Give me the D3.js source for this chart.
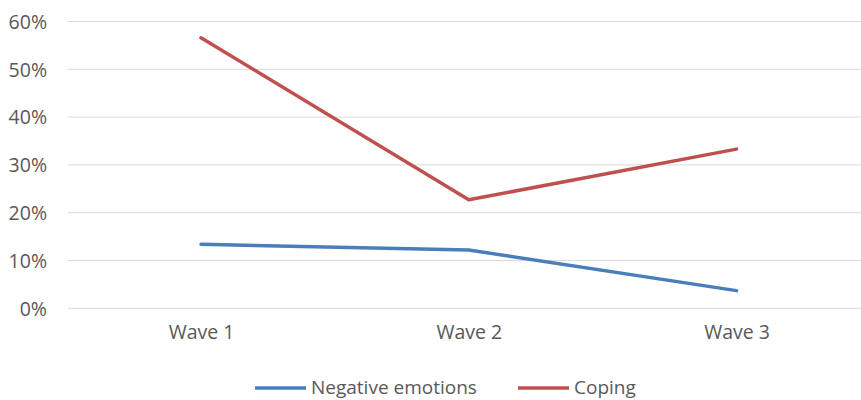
<!DOCTYPE html>
<html><head><meta charset="utf-8">
<script src="https://cdn.jsdelivr.net/npm/d3@7"></script>
<style>
html,body{margin:0;padding:0;background:#fff;}
svg{display:block;font-family:"Open Sans",sans-serif;}
</style></head>
<body><svg id="c" width="861" height="400"></svg>
<script>
const categories = ["Wave 1","Wave 2","Wave 3"];
const negativeEmotions = [0.134, 0.122, 0.037];
const coping = [0.566, 0.227, 0.333];
const yTicks = [0,0.1,0.2,0.3,0.4,0.5,0.6];
const seriesNames = ["Negative emotions","Coping"];
const seriesColors = ["#4A7EBB","#C0504D"];

const FS = "19.5px";
const svg = d3.select("#c");
const x = d3.scalePoint().domain(categories).range([201, 736.5]);
const y = d3.scaleLinear().domain([0,0.6]).range([308.3, 21.5]);

// gridlines
svg.append("g").selectAll("line").data(yTicks).join("line")
  .attr("x1",68).attr("x2",861)
  .attr("y1",d=>y(d)).attr("y2",d=>y(d))
  .attr("stroke","#d9d9d9").attr("stroke-width",1);

// y axis labels
const yAxis = d3.axisLeft(y).tickValues(yTicks).tickFormat(d3.format(".0%")).tickSize(0).tickPadding(0);
const ya = svg.append("g").attr("transform","translate(47,0)").call(yAxis);
ya.select(".domain").remove();
ya.selectAll("text").attr("fill","#595959").style("font-size",FS).style("font-family","'Open Sans',sans-serif").attr("dy","0.35em");

// x axis labels
const xAxis = d3.axisBottom(x).tickSize(0).tickPadding(0);
const xa = svg.append("g").attr("transform","translate(0,325)").call(xAxis);
xa.select(".domain").remove();
xa.selectAll("text").attr("fill","#595959").style("font-size",FS).style("font-family","'Open Sans',sans-serif").attr("dy","0.71em");

const line = d3.line().x((d,i)=>x(categories[i])).y(d=>y(d));
[negativeEmotions, coping].forEach((s,k)=>{
  svg.append("path").datum(s).attr("d",line)
    .attr("fill","none").attr("stroke",seriesColors[k])
    .attr("stroke-width",3.5).attr("stroke-linejoin","round").attr("stroke-linecap","round");
});

// legend
const legendX = [255, 518];
seriesNames.forEach((n,k)=>{
  const g = svg.append("g").attr("transform",`translate(${legendX[k]},388)`);
  g.append("line").attr("x1",0).attr("x2",51).attr("y1",0).attr("y2",0)
    .attr("stroke",seriesColors[k]).attr("stroke-width",3.5);
  g.append("text").attr("x",56).attr("y",0).attr("dy","0.33em")
    .attr("fill","#595959").style("font-size","19px").text(n);
});
</script></body></html>
